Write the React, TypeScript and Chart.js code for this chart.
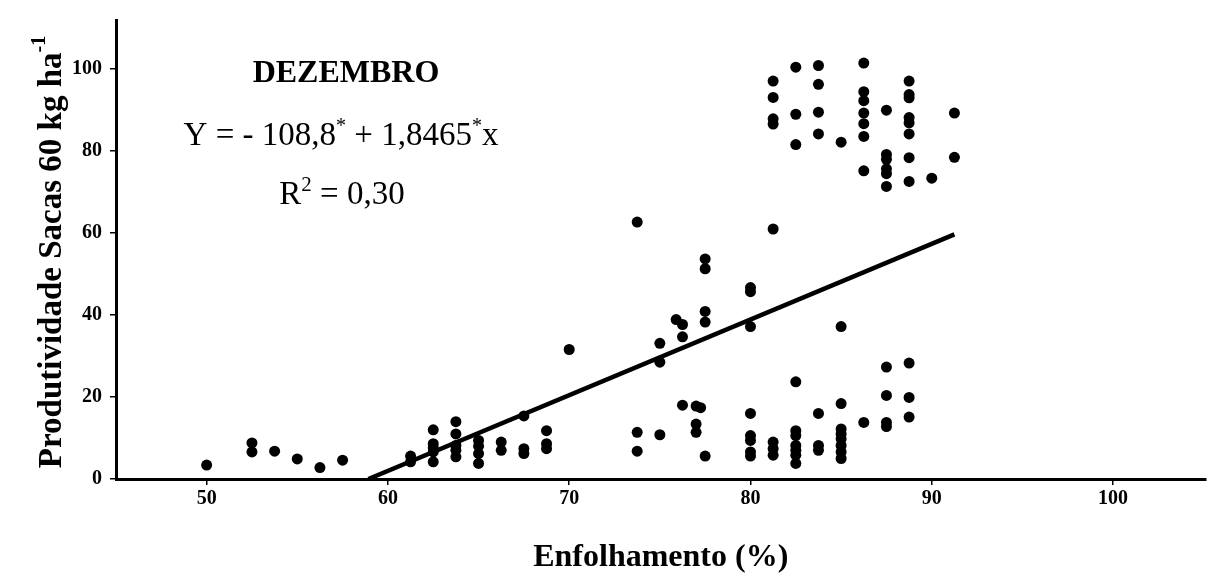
import React, { useEffect, useRef } from "react";
import { Chart, registerables } from "chart.js";

Chart.register(...registerables);

// Leaf retention (%) of each plot, paired with its yield below
const enfolhamento = [
  50,
  52.5, 52.5,
  53.75,
  55,
  56.25,
  57.5,
  61.25, 61.25,
  62.5, 62.5, 62.5, 62.5, 62.5,
  63.75, 63.75, 63.75, 63.75, 63.75,
  65, 65, 65, 65,
  66.25, 66.25,
  67.5, 67.5, 67.5,
  68.75, 68.75, 68.75,
  70,
  73.75, 73.75, 73.75,
  75, 75, 75,
  75.9,
  76.25, 76.25, 76.25,
  77, 77, 77,
  77.25,
  77.5, 77.5, 77.5, 77.5, 77.5,
  80, 80, 80, 80, 80, 80, 80, 80,
  81.25, 81.25, 81.25, 81.25, 81.25, 81.25, 81.25, 81.25,
  82.5, 82.5, 82.5, 82.5, 82.5, 82.5, 82.5, 82.5, 82.5, 82.5,
  83.75, 83.75, 83.75, 83.75, 83.75, 83.75, 83.75,
  85, 85, 85, 85, 85, 85, 85, 85, 85,
  86.25, 86.25, 86.25, 86.25, 86.25, 86.25, 86.25, 86.25,
  87.5, 87.5, 87.5, 87.5, 87.5, 87.5, 87.5, 87.5, 87.5, 87.5,
  88.75, 88.75, 88.75, 88.75, 88.75, 88.75, 88.75, 88.75, 88.75, 88.75, 88.75,
  90,
  91.25, 91.25,
];

// Yield (sacas de 60 kg por hectare)
const produtividade = [
  3.4,
  8.8, 6.6,
  6.8,
  4.9,
  2.8,
  4.6,
  5.6, 4.2,
  12.0, 8.6, 7.6, 6.6, 4.2,
  14.0, 11.0, 8.2, 7.0, 5.4,
  9.4, 8.0, 6.2, 3.8,
  9.0, 7.0,
  15.4, 7.4, 6.2,
  11.8, 8.6, 7.4,
  31.6,
  62.7, 11.4, 6.8,
  33.1, 28.5, 10.8,
  38.9,
  37.7, 34.7, 18.0,
  17.8, 13.4, 11.4,
  17.4,
  53.7, 51.3, 40.9, 38.3, 5.6,
  46.7, 45.7, 37.2, 16.0, 10.6, 9.4, 6.6, 5.6,
  97.1, 93.1, 87.9, 86.6, 61.0, 9.0, 7.4, 5.8,
  100.5, 89.0, 81.6, 23.7, 11.8, 10.6, 8.2, 7.0, 5.8, 3.8,
  100.9, 96.3, 89.5, 84.2, 16.0, 8.2, 7.0,
  82.2, 37.2, 18.4, 12.2, 11.0, 9.8, 8.2, 6.6, 5.0,
  101.5, 94.5, 92.3, 89.3, 86.7, 83.6, 75.2, 13.8,
  90.0, 79.2, 78.0, 75.7, 74.5, 71.4, 27.3, 20.4, 13.8, 12.8,
  97.1, 93.8, 93.0, 88.2, 86.9, 84.2, 78.4, 72.6, 28.3, 19.9, 15.1,
  73.4,
  89.3, 78.5,
];

const xTickValues = [50, 60, 70, 80, 90, 100];
const yTickValues = [0, 20, 40, 60, 80, 100];

// Fitted linear model: Y = a + b x
const interceptText = "108,8";
const slopeText = "1,8465";
const intercept = -108.8;
const slope = 1.8465;
const r2Text = "0,30";
const monthLabel = "DEZEMBRO";
const xTitle = "Enfolhamento (%)";
const yTitle = "Produtividade Sacas 60 kg ha";
const yTitleExp = "-1";

const SERIF = '"Liberation Serif", "Times New Roman", Times, serif';

type Run = { t: string; size: number; rise?: number; bold?: boolean };

function runsWidth(ctx: CanvasRenderingContext2D, runs: Run[]) {
  let w = 0;
  for (const r of runs) {
    ctx.font = `${r.bold ? "bold " : ""}${r.size}px ${SERIF}`;
    w += ctx.measureText(r.t).width;
  }
  return w;
}

function drawRuns(ctx: CanvasRenderingContext2D, runs: Run[], cx: number, baseline: number) {
  let x = cx - runsWidth(ctx, runs) / 2;
  ctx.textAlign = "left";
  ctx.textBaseline = "alphabetic";
  for (const r of runs) {
    ctx.font = `${r.bold ? "bold " : ""}${r.size}px ${SERIF}`;
    ctx.fillText(r.t, x, baseline - (r.rise || 0));
    x += ctx.measureText(r.t).width;
  }
}

const textPlugin = {
  id: "chartText",
  afterDraw(chart: any) {
    const ctx: CanvasRenderingContext2D = chart.ctx;
    const area = chart.chartArea;
    ctx.save();
    ctx.fillStyle = "#000";

    // Month heading
    drawRuns(ctx, [{ t: monthLabel, size: 32, bold: true }], 346, 82);

    // Regression equation
    drawRuns(
      ctx,
      [
        { t: `Y = - ${interceptText}`, size: 33 },
        { t: "*", size: 20, rise: 13 },
        { t: ` + ${slopeText}`, size: 33 },
        { t: "*", size: 20, rise: 13 },
        { t: "x", size: 33 },
      ],
      341,
      145
    );

    // Coefficient of determination
    drawRuns(
      ctx,
      [
        { t: "R", size: 33 },
        { t: "2", size: 21, rise: 13 },
        { t: ` = ${r2Text}`, size: 33 },
      ],
      342,
      204
    );

    // X axis title
    drawRuns(ctx, [{ t: xTitle, size: 32, bold: true }], (area.left + area.right) / 2, 566);

    // Y axis title (rotated), with superscript unit exponent
    ctx.translate(61, 252);
    ctx.rotate(-Math.PI / 2);
    drawRuns(
      ctx,
      [
        { t: yTitle, size: 33, bold: true },
        { t: yTitleExp, size: 20, rise: 16, bold: true },
      ],
      0,
      0
    );
    ctx.restore();
  },
};

export default function App() {
  const canvasRef = useRef<HTMLCanvasElement | null>(null);

  useEffect(() => {
    const canvas = canvasRef.current;
    if (!canvas) return;

    const points = enfolhamento.map((x, i) => ({ x, y: produtividade[i] }));
    const fitStart = -intercept / slope;
    const fitEnd = Math.max(...enfolhamento);
    const fitLine = [
      { x: fitStart, y: intercept + slope * fitStart },
      { x: fitEnd, y: intercept + slope * fitEnd },
    ];

    const tickFont = { family: SERIF, size: 20, weight: "bold" as const };

    const chart = new Chart(canvas, {
      type: "scatter",
      data: {
        datasets: [
          {
            label: "Produtividade",
            data: points,
            backgroundColor: "#000",
            borderColor: "#000",
            borderWidth: 0,
            pointRadius: 5.5,
            pointHoverRadius: 5.5,
            showLine: false,
          },
          {
            label: "Ajuste",
            type: "line",
            data: fitLine,
            borderColor: "#000",
            borderWidth: 4.5,
            pointRadius: 0,
            showLine: true,
            fill: false,
            tension: 0,
          } as any,
        ],
      },
      options: {
        responsive: false,
        animation: false,
        events: [],
        devicePixelRatio: 1,
        layout: { padding: { top: 11, right: 1, left: 0, bottom: 0 } },
        plugins: {
          legend: { display: false },
          tooltip: { enabled: false },
        },
        scales: {
          x: {
            type: "linear",
            min: 45,
            max: 105.1,
            afterBuildTicks: (scale: any) => {
              scale.ticks = xTickValues.map((value) => ({ value }));
            },
            afterFit: (scale: any) => {
              scale.height = 100;
            },
            ticks: { color: "#000", font: tickFont, padding: 2, maxRotation: 0 },
            grid: {
              display: true,
              drawOnChartArea: false,
              drawTicks: true,
              tickLength: 6,
              color: "#000",
              lineWidth: 1.5,
            },
            border: { display: true, color: "#000", width: 3 },
          },
          y: {
            type: "linear",
            min: 0,
            max: 112,
            afterBuildTicks: (scale: any) => {
              scale.ticks = yTickValues.map((value) => ({ value }));
            },
            afterFit: (scale: any) => {
              scale.width = 116;
            },
            ticks: { color: "#000", font: tickFont, padding: 8 },
            grid: {
              display: true,
              drawOnChartArea: false,
              drawTicks: true,
              tickLength: 6,
              color: "#000",
              lineWidth: 1.5,
            },
            border: { display: true, color: "#000", width: 3 },
          },
        },
      },
      plugins: [textPlugin],
    });

    return () => chart.destroy();
  }, []);

  return (
    <div
      style={{
        position: "fixed",
        left: 0,
        top: 0,
        width: 1211,
        height: 579,
        background: "#fff",
      }}
    >
      <canvas ref={canvasRef} width={1211} height={579} style={{ display: "block" }} />
    </div>
  );
}
